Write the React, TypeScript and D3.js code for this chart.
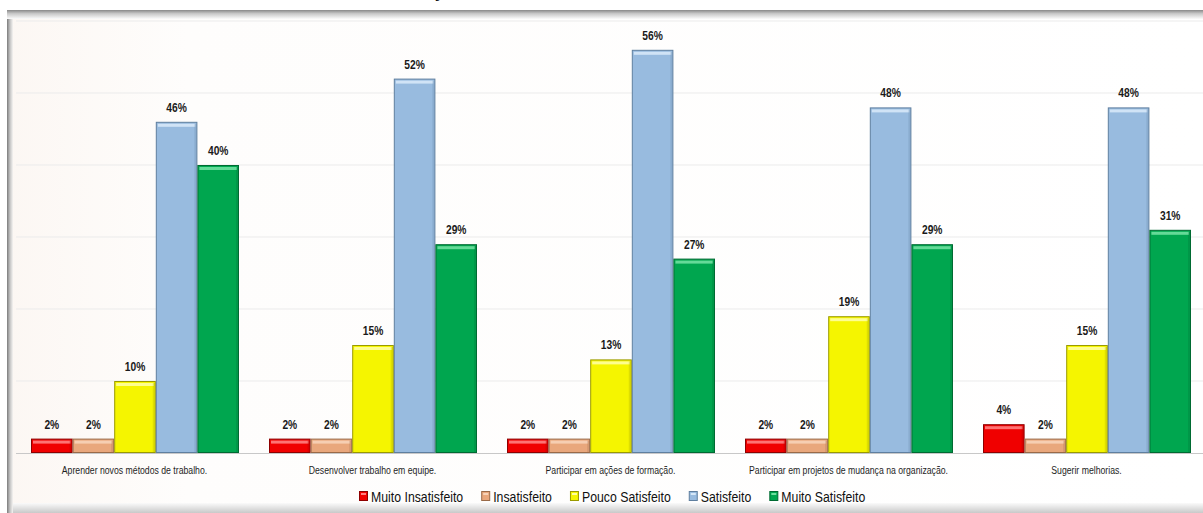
import { useEffect, useRef } from "react";
import * as d3 from "d3";

const categories = [
  "Aprender novos métodos de trabalho.",
  "Desenvolver trabalho em equipe.",
  "Participar em ações de formação.",
  "Participar em projetos de mudança na organização.",
  "Sugerir melhorias.",
];
const seriesNames = ["Muito Insatisfeito", "Insatisfeito", "Pouco Satisfeito", "Satisfeito", "Muito Satisfeito"];
const muitoInsatisfeito = [2, 2, 2, 2, 4];
const insatisfeito = [2, 2, 2, 2, 2];
const poucoSatisfeito = [10, 15, 13, 19, 15];
const satisfeito = [46, 52, 56, 48, 48];
const muitoSatisfeito = [40, 29, 27, 29, 31];
const yTicks = [0, 10, 20, 30, 40, 50, 60];

const colors = ["#f00000", "#e9a77c", "#f5f500", "#98bbdf", "#00a64f"];
const strokes = ["#8e0000", "#9a6a48", "#9a9a00", "#5f7f9f", "#006a32"];
const highlights = ["#ff8080", "#f7d3b8", "#ffffa0", "#d6e8f8", "#6fe0a0"];

const font = "Liberation Sans, Arial, sans-serif";

// narrow text: the original uses a condensed face, so squeeze it horizontally
function ntext(parent: any, x: number, y: number, str: string, size: number, opts: any = {}) {
  const g = parent.append("g").attr("transform", `translate(${x},${y}) scale(${opts.sx ?? 0.85},1)`);
  const t = g.append("text")
    .attr("text-anchor", opts.anchor ?? "middle")
    .attr("font-family", font)
    .attr("font-size", size)
    .attr("font-weight", opts.weight ?? "normal")
    .attr("fill", opts.fill ?? "#111")
    .text(str);
  return t;
}

export default function App() {
  const ref = useRef<SVGSVGElement>(null);

  useEffect(() => {
    document.body.style.margin = "0";
    const W = 1203;
    const H = 513;
    const svg = d3.select(ref.current);
    svg.selectAll("*").remove();

    const series = [muitoInsatisfeito, insatisfeito, poucoSatisfeito, satisfeito, muitoSatisfeito];

    const defs = svg.append("defs");
    const lg = (id: string, x2: string, y2: string, stops: [string, string][]) => {
      const g = defs.append("linearGradient").attr("id", id).attr("x1", "0").attr("y1", "0").attr("x2", x2).attr("y2", y2);
      stops.forEach(([o, c]) => g.append("stop").attr("offset", o).attr("stop-color", c));
    };
    lg("shL", "1", "0", [["0", "#7c7c7c"], ["0.5", "#c4c4c4"], ["1", "#f6f4f2"]]);
    lg("shT", "0", "1", [["0", "#888"], ["0.4", "#c8c8c8"], ["1", "#fbfbfb"]]);
    lg("shB", "0", "1", [["0", "#fafafa"], ["1", "#c9c9c9"]]);
    lg("warm", "1", "0", [["0", "#fcf7f3"], ["0.15", "#fefdfc"], ["1", "#ffffff"]]);

    // panel with its shadowed edges
    svg.append("rect").attr("width", W).attr("height", H).attr("fill", "#fff");
    svg.append("rect").attr("x", 7).attr("y", 10).attr("width", W - 7).attr("height", H - 10).attr("fill", "url(#warm)");
    svg.append("rect").attr("x", 7).attr("y", 10).attr("width", 6).attr("height", H - 10).attr("fill", "url(#shL)");
    svg.append("rect").attr("x", 7).attr("y", 10).attr("width", W - 7).attr("height", 9).attr("fill", "url(#shT)");
    svg.append("rect").attr("x", 13).attr("y", 503).attr("width", W - 13).attr("height", 10).attr("fill", "url(#shB)");

    // title above is cut off; only the cedilla shows
    svg.append("text").attr("x", 432).attr("y", -3).attr("font-family", font)
      .attr("font-weight", "bold").attr("font-size", 20).attr("fill", "#111").text("ç");

    const x0 = d3.scaleBand<string>().domain(categories).range([15.5, 15.5 + 5 * 238]);
    const x1 = d3.scaleBand<number>().domain(d3.range(seriesNames.length)).range([15.5, 223.5]);
    const y = d3.scaleLinear().domain([0, 60]).range([453, 21]);

    svg.append("g").selectAll("line").data(yTicks.slice(1)).join("line")
      .attr("x1", 16).attr("x2", W).attr("y1", (d) => y(d)).attr("y2", (d) => y(d))
      .attr("stroke", "#ebebeb").attr("stroke-width", 1);

    const groups = svg.append("g").selectAll("g").data(categories).join("g")
      .attr("transform", (d) => `translate(${x0(d)},0)`);

    groups.each(function (_c, ci) {
      const g = d3.select(this);
      series.forEach((vals, si) => {
        const v = vals[ci];
        const bx = x1(si)!;
        const bw = x1.bandwidth();
        const top = y(v);
        const h = y(0) - top;
        g.append("rect").attr("x", bx + 0.5).attr("y", top + 0.5).attr("width", bw - 1).attr("height", h - 1)
          .attr("fill", colors[si]).attr("stroke", strokes[si]).attr("stroke-width", 1);
        g.append("rect").attr("x", bx + 2).attr("y", top + 2).attr("width", bw - 4).attr("height", Math.min(3, h - 4))
          .attr("fill", highlights[si]).attr("opacity", 0.9);
        g.append("rect").attr("x", bx + bw - 3).attr("y", top + 2).attr("width", 2).attr("height", Math.max(0, h - 3))
          .attr("fill", strokes[si]).attr("opacity", 0.25);
        ntext(g, bx + bw / 2, top - 10, `${v}%`, 13.5, { weight: "bold", sx: 0.76, fill: "#1a1a1a" });
      });
      ntext(g, x0.bandwidth() / 2, 474, categories[ci], 10, { sx: 0.87, fill: "#1e1e1e" });
    });

    // baseline
    svg.append("line").attr("x1", 16).attr("x2", W).attr("y1", y(0) + 0.5).attr("y2", y(0) + 0.5)
      .attr("stroke", "#c8c8c8");

    // legend, laid out from measured text widths
    const leg = svg.append("g");
    let lx = 359;
    seriesNames.forEach((name, i) => {
      const item = leg.append("g").attr("transform", `translate(${lx},496)`);
      item.append("rect").attr("x", 0.5).attr("y", -4.5).attr("width", 8).attr("height", 9)
        .attr("fill", colors[i]).attr("stroke", strokes[i]);
      item.append("rect").attr("x", 2).attr("y", -3).attr("width", 5).attr("height", 2).attr("fill", highlights[i]);
      const sx = 0.82;
      const t = ntext(item, 12, 5.5, name, 15, { anchor: "start", sx, fill: "#111" });
      const w = (t.node() as SVGTextElement).getComputedTextLength() * sx;
      lx += 12 + w + 18;
    });
  }, []);

  return <svg ref={ref} width={1203} height={513} style={{ display: "block" }}></svg>;
}
